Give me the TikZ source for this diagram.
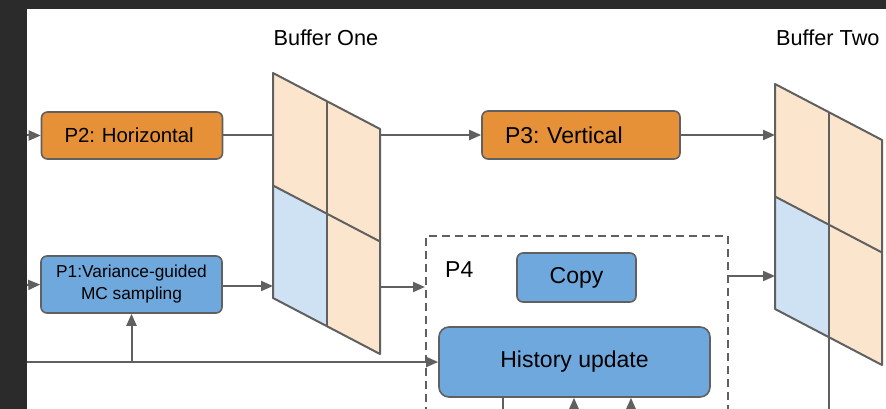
\documentclass[tikz,border=0pt]{standalone}
\usepackage{fontspec}
\setmainfont{Liberation Sans}
\usetikzlibrary{arrows.meta,calc}
\definecolor{frame}{HTML}{2B2B2B}
\definecolor{linegray}{HTML}{606060}
\definecolor{orangebox}{HTML}{E69138}
\definecolor{bluebox}{HTML}{6FA8DC}
\definecolor{peach}{HTML}{FCE5CD}
\definecolor{paleblue}{HTML}{CFE2F3}
\frenchspacing

\begin{document}
\begin{tikzpicture}[x=1pt,y=-1pt,
  proc/.style={draw=linegray, line width=1.6pt, rounded corners=6pt, inner sep=0pt},
  orangeproc/.style={proc, fill=orangebox},
  blueproc/.style={proc, fill=bluebox},
  leftlabel/.style={inner xsep=23pt, align=left},
  flow/.style={draw=linegray, line width=2pt, -{Triangle[length=12pt,width=10pt]}},
  plain/.style={draw=linegray, line width=2pt},
  txt/.style={text=black, inner sep=0pt},
  cell/.style={draw=linegray, line width=2pt, line join=round},
  buffer/.pic={
    \fill[peach] (0,0) -- (107,56) -- (107,281) -- (0,225) -- cycle;
    \fill[paleblue] (0,112.5) -- (53.5,140.5) -- (53.5,253) -- (0,225) -- cycle;
    \draw[cell] (0,0) -- (107,56) -- (107,281) -- (0,225) -- cycle;
    \draw[cell] (53.5,28) -- (53.5,253);
    \draw[cell] (0,112.5) -- (107,168.5);
  },
]
\useasboundingbox (0,0) rectangle (886,409);
\clip (0,0) rectangle (886,409);

% page frame
\fill[frame] (0,0) rectangle (886,409);
\fill[white] (27,9) rectangle (886,409);

% buffer titles
\node[txt, font=\fontsize{21.7}{26}\selectfont] (t1) at (326,38) {Buffer One};
\node[txt, font=\fontsize{21.7}{26}\selectfont, anchor=west] (t2) at (776,38) {Buffer Two};

% process boxes
\node[orangeproc, leftlabel, text width=135pt, minimum height=47pt,
      font=\fontsize{20.4}{24}\selectfont] (p2) at (132,135.5) {P2: Horizontal};
\node[blueproc, align=center, minimum width=181pt, minimum height=57pt,
      font=\fontsize{17.3}{22}\selectfont] (p1) at (131.5,284.5) {P1:Variance-guided\\MC sampling};
\node[orangeproc, leftlabel, text width=152pt, minimum height=48pt,
      font=\fontsize{23}{27}\selectfont] (p3) at (581,135) {P3: Vertical};

% P4 group
\node[draw=linegray, line width=1.6pt, dash pattern=on 8pt off 5pt,
      minimum width=302pt, minimum height=200pt, anchor=north west, inner sep=0pt] (p4) at (425,235) {};
\node[txt, font=\fontsize{23}{27}\selectfont, anchor=west] (p4lbl) at (445,270) {P4};
\node[blueproc, minimum width=119pt, minimum height=49pt,
      font=\fontsize{23}{27}\selectfont] (copy) at (576.5,277.5) {Copy};
\node[blueproc, rounded corners=10pt, minimum width=271pt, minimum height=70pt,
      font=\fontsize{23}{27}\selectfont] (hist) at (574.5,362) {History update};

% connector end points
\coordinate (in2) at (27,135.5);
\coordinate (in1) at (27,285);
\coordinate (inh) at (27,362);
\coordinate (b1a) at (273,135.5);
\coordinate (b1b) at (273,286);
\coordinate (b1c) at (380,135);
\coordinate (b1d) at (380,287);
\coordinate (b2a) at (775,135);
\coordinate (b2b) at (775,276);
\coordinate (b2foot) at (828.5,337);
\coordinate (b2out) at (828.5,420);
\coordinate (h1) at (503,420);
\coordinate (h2) at (574,420);
\coordinate (h3) at (631,420);

% connectors
\draw[flow] (in2) -- (p2.west);
\draw[flow] (in1) -- (p1.west);
\draw[flow] (inh) -- (hist.west);
\draw[flow] (inh -| p1.south) -- (p1.south);
\draw[plain] (p2.east) -- (b1a);
\draw[flow] (p1.east |- b1b) -- (b1b);
\draw[flow] (b1c) -- (p3.west);
\draw[flow] (b1d) -- (p4.west |- b1d);
\draw[flow] (p3.east) -- (b2a);
\draw[flow] (p4.east |- b2b) -- (b2b);
\draw[plain] (b2foot) -- (b2out);
\draw[plain] (hist.south -| h1) -- (h1);
\draw[flow] (h2) -- (hist.south -| h2);
\draw[flow] (h3) -- (hist.south -| h3);

% buffers
\pic at (273,73) {buffer};
\pic at (775,84) {buffer};
\end{tikzpicture}
\end{document}
